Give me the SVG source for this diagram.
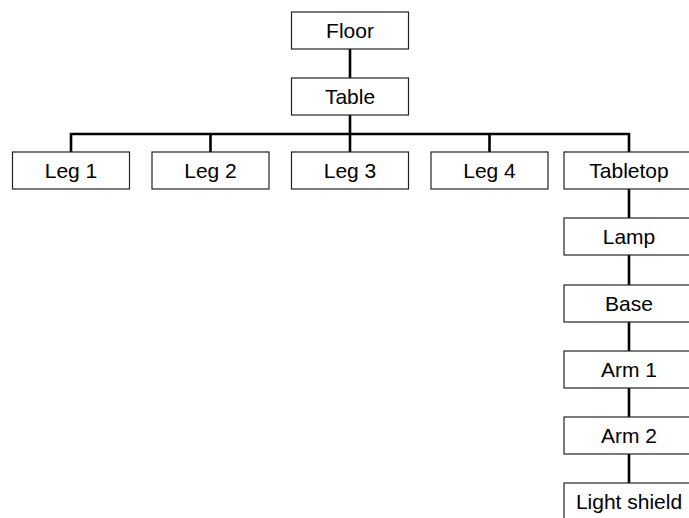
<svg xmlns="http://www.w3.org/2000/svg" width="689" height="518" viewBox="0 0 689 518">
<style>
.box{fill:#fff;stroke:#222;stroke-width:1.2}
.lbl{font-family:"Liberation Sans",Arial,sans-serif;font-size:21px;fill:#000;text-anchor:middle}
.con{stroke:#000;stroke-width:2.6;fill:none}
</style>
<rect width="689" height="518" fill="#fff"/>
<g id="connectors">
<line class="con" x1="350" y1="49" x2="350" y2="78"/>
<line class="con" x1="350" y1="115" x2="350" y2="134"/>
<polyline class="con" points="71,152 71,134 629,134 629,152"/>
<line class="con" x1="210.5" y1="134" x2="210.5" y2="152"/>
<line class="con" x1="350" y1="134" x2="350" y2="152"/>
<line class="con" x1="489.5" y1="134" x2="489.5" y2="152"/>
<line class="con" x1="629" y1="189" x2="629" y2="218"/>
<line class="con" x1="629" y1="255" x2="629" y2="285"/>
<line class="con" x1="629" y1="322" x2="629" y2="351"/>
<line class="con" x1="629" y1="388" x2="629" y2="417"/>
<line class="con" x1="629" y1="454" x2="629" y2="483"/>
</g>
<g id="floor"><rect class="box" x="291.5" y="12" width="117" height="37"/><text class="lbl" x="350" y="37.5">Floor</text></g>
<g id="table"><rect class="box" x="291.5" y="78" width="117" height="37"/><text class="lbl" x="350" y="103.5">Table</text></g>
<g id="leg1"><rect class="box" x="12.5" y="152" width="117" height="37"/><text class="lbl" x="71" y="177.5">Leg 1</text></g>
<g id="leg2"><rect class="box" x="152" y="152" width="117" height="37"/><text class="lbl" x="210.5" y="177.5">Leg 2</text></g>
<g id="leg3"><rect class="box" x="291.5" y="152" width="117" height="37"/><text class="lbl" x="350" y="177.5">Leg 3</text></g>
<g id="leg4"><rect class="box" x="431" y="152" width="117" height="37"/><text class="lbl" x="489.5" y="177.5">Leg 4</text></g>
<g id="tabletop"><rect class="box" x="564" y="152" width="130" height="37"/><text class="lbl" x="629" y="177.5">Tabletop</text></g>
<g id="lamp"><rect class="box" x="564" y="218" width="130" height="37"/><text class="lbl" x="629" y="243.5">Lamp</text></g>
<g id="base"><rect class="box" x="564" y="285" width="130" height="37"/><text class="lbl" x="629" y="310.5">Base</text></g>
<g id="arm1"><rect class="box" x="564" y="351" width="130" height="37"/><text class="lbl" x="629" y="376.5">Arm 1</text></g>
<g id="arm2"><rect class="box" x="564" y="417" width="130" height="37"/><text class="lbl" x="629" y="442.5">Arm 2</text></g>
<g id="lightshield"><rect class="box" x="564" y="483" width="130" height="37"/><text class="lbl" x="629" y="509">Light shield</text></g>
</svg>
